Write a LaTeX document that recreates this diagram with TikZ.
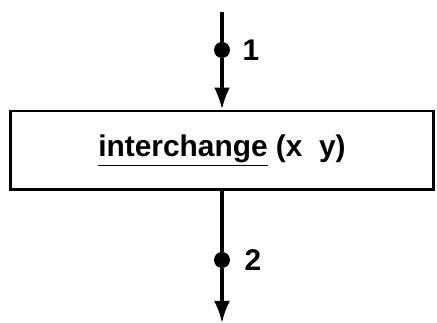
\documentclass[tikz,border=0pt]{standalone}
\usepackage{fontspec}
\setsansfont{Liberation Sans}
\usetikzlibrary{arrows.meta, positioning}

\tikzset{
    stmt/.style={draw, line width=1.7pt, minimum width=8.48cm, minimum height=1.58cm, inner sep=0pt},
    pt/.style={circle, fill=black, inner sep=0pt, minimum size=0.32cm},
    flow/.style={line width=1.9pt}
}

\begin{document}
\begin{tikzpicture}[x=0.02cm, y=-0.02cm, >={Latex[length=0.44cm, width=0.32cm]},
    font=\sffamily\bfseries\fontsize{17}{20}\selectfont]
    \useasboundingbox (0,0) rectangle (437,323);
    % 1. Statement box
    \node[stmt] (box) at (222,150.5) {\underline{interchange} (x\ \ y)};
    % 2. Points on the flow lines
    \coordinate (in) at (222,12);
    \node[pt] (p1) at (222,50) {};
    \node[pt] (p2) at (222,260) {};
    \coordinate (out) at (222,323);
    \node[right=0.12cm of p1] (l1) {1};
    \node[right=0.16cm of p2] (l2) {2};
    % 3. Flow lines
    \draw[flow] (in) -- (p1);
    \draw[flow, ->] (p1) -- (box.north -| p1);
    \draw[flow] (box.south -| p2) -- (p2);
    \draw[flow, ->] (p2) -- (out);
\end{tikzpicture}
\end{document}
